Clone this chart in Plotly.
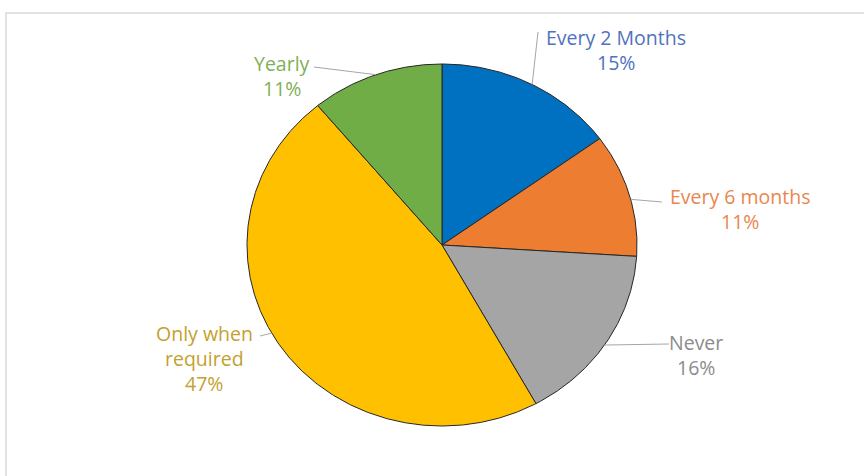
import math
import plotly.graph_objects as go

# Survey answers: how often the task is done
categories = ["Every 2 Months", "Every 6 months", "Never", "Only when required", "Yearly"]
shares = [15, 11, 16, 47, 11]

slice_colors = ["#0070C0", "#ED7D31", "#A5A5A5", "#FFC000", "#70AD47"]
label_colors = ["#4F72BE", "#E8874F", "#8C8C8C", "#C4A12E", "#7FAF57"]

W, H = 864, 476
CX, CY = 442, 245        # pie centre (pixels)
RX, RY = 195, 181        # horizontal / vertical radius (pixels)

# label text lines and their anchor (pixel) positions
label_lines = [["Every 2 Months"], ["Every 6 months"], ["Never"], ["Only when", "required"], ["Yearly"]]
label_pos = [(616, 37), (740, 196), (696, 342), (204, 333), (282, 63)]
line_gap = 25
# where each leader line leaves its label, and how far along its slice it touches the rim
leader_start = [(538, 32), (662, 202), (669, 344), (260, 336), (314, 67)]
leader_frac = [0.51, 0.54, 0.52, 0.53, 0.5]

# unit-circle data space, scaled by the axis ranges into the pixel ellipse
x_range = [-CX / RX, (W - CX) / RX]
y_range = [-(H - CY) / RY, CY / RY]


def to_data(px_x, px_y):
    return (px_x - CX) / RX, (CY - px_y) / RY


def rim(deg):
    a = math.radians(deg)
    return math.sin(a), math.cos(a)


fig = go.Figure()

total = sum(shares)
start = 0.0
bounds = []
for i, v in enumerate(shares):
    sweep = 360.0 * v / total
    n = max(int(sweep * 2), 2)
    xs, ys = [0.0], [0.0]
    for k in range(n + 1):
        x, y = rim(start + sweep * k / n)
        xs.append(x)
        ys.append(y)
    xs.append(0.0)
    ys.append(0.0)
    fig.add_trace(go.Scatter(
        x=xs, y=ys, mode="lines", fill="toself",
        fillcolor=slice_colors[i],
        line=dict(color="#262626", width=1),
        name=categories[i], hoverinfo="name", showlegend=False,
    ))
    bounds.append((start, sweep))
    start += sweep

annotations = []
shapes = [
    # chart frame
    dict(type="rect", xref="paper", yref="paper", x0=6 / W, x1=1.05, y0=-0.05, y1=1 - 13 / H,
         line=dict(color="#D9D9D9", width=1.5), fillcolor="rgba(0,0,0,0)", layer="below"),
]

for i, v in enumerate(shares):
    s, sw = bounds[i]
    ex, ey = rim(s + sw * leader_frac[i])
    sx, sy = to_data(*leader_start[i])
    shapes.append(dict(type="line", xref="x", yref="y", x0=sx, y0=sy, x1=ex, y1=ey,
                       line=dict(color="#A6A6A6", width=1)))
    lx, ly = label_pos[i]
    lines = label_lines[i] + [f"{v}%"]
    for k, t in enumerate(lines):
        ax, ay = to_data(lx, ly + k * line_gap)
        annotations.append(dict(
            x=ax, y=ay, xref="x", yref="y",
            text=t, showarrow=False, xanchor="center", yanchor="middle",
            font=dict(family="Open Sans", size=19.5, color=label_colors[i]),
        ))

fig.update_layout(
    width=W, height=H,
    margin=dict(l=0, r=0, t=0, b=0),
    paper_bgcolor="white",
    plot_bgcolor="white",
    xaxis=dict(range=x_range, visible=False, fixedrange=True, domain=[0, 1]),
    yaxis=dict(range=y_range, visible=False, fixedrange=True, domain=[0, 1]),
    annotations=annotations,
    shapes=shapes,
)

fig.write_html("out.html")
